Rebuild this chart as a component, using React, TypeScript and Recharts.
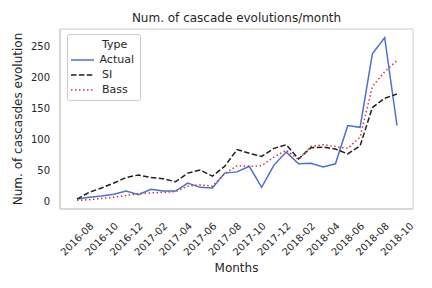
import React from 'react';
import { LineChart, Line, XAxis, YAxis, Legend, CartesianGrid } from 'recharts';

const months = [
  '2016-08', '2016-09', '2016-10', '2016-11', '2016-12', '2017-01', '2017-02', '2017-03', '2017-04',
  '2017-05', '2017-06', '2017-07', '2017-08', '2017-09', '2017-10', '2017-11', '2017-12', '2018-01',
  '2018-02', '2018-03', '2018-04', '2018-05', '2018-06', '2018-07', '2018-08', '2018-09', '2018-10',
];
const actual = [3, 6, 8, 11, 16, 10, 19, 16, 16, 29, 22, 21, 45, 47, 56, 22, 58, 79, 60, 61, 55, 60, 122, 119, 238, 264, 122];
const si = [3, 14, 21, 29, 38, 42, 38, 36, 31, 45, 50, 40, 56, 83, 77, 72, 85, 91, 68, 86, 87, 84, 76, 89, 151, 166, 173];
const bass = [1, 2, 4, 6, 9, 12, 13, 14, 15, 24, 26, 24, 44, 57, 56, 57, 71, 82, 67, 88, 91, 88, 85, 103, 185, 209, 227];
const yTicks = [0, 50, 100, 150, 200, 250];

const FONT = '"DejaVu Sans", sans-serif';
const INK = '#262626';
const SPINE = '#cccccc';

const SERIES = [
  { key: 'Actual', color: '#4a70d0', dash: undefined as string | undefined },
  { key: 'SI', color: '#1f1f1f', dash: '5.5 2.4' },
  { key: 'Bass', color: '#d0363f', dash: '1.5 2.5' },
];

const data = months.map((m, i) => ({ month: m, Actual: actual[i], SI: si[i], Bass: bass[i] }));

const TiltTick = (props: any) => {
  const { x, y, payload } = props;
  const cy = y + 30;
  return (
    <text x={x} y={cy} textAnchor="middle" dominantBaseline="central" fontSize={10} fill={INK}
      fontFamily={FONT} transform={`rotate(-45, ${x}, ${cy})`}>
      {payload.value}
    </text>
  );
};

const LegendBox = () => (
  <div style={{
    border: `1px solid ${SPINE}`, borderRadius: 3, background: 'rgba(255,255,255,0.8)',
    padding: '2px 6px 3px 2px', fontFamily: FONT, fontSize: 11, color: INK,
  }}>
    <div style={{ display: 'flex', alignItems: 'center', height: 15 }}>
      <span style={{ width: 32 }} />
      <span>Type</span>
    </div>
    {SERIES.map(s => (
      <div key={s.key} style={{ display: 'flex', alignItems: 'center', height: 15 }}>
        <svg width={32} height={10}>
          <line x1={1} y1={5} x2={24} y2={5} stroke={s.color} strokeWidth={1.5} strokeDasharray={s.dash} />
        </svg>
        <span>{s.key}</span>
      </div>
    ))}
  </div>
);

// plot frame: lines at the edges of the plotting area
const frameH = (p: any) => [p.offset.top, p.offset.top + p.offset.height];
const frameV = (p: any) => [p.offset.left, p.offset.left + p.offset.width];

export default function App() {
  return (
    <div style={{ position: 'absolute', left: 0, top: 0, width: 432, height: 288, background: '#fff' }}>
      <LineChart width={432} height={288} data={data} margin={{ top: 29, right: 19, bottom: 0, left: 0 }}>
        <CartesianGrid stroke={SPINE} strokeWidth={1} xAxisId="main" yAxisId="main"
          horizontalCoordinatesGenerator={frameH} verticalCoordinatesGenerator={frameV} />
        <XAxis dataKey="month" xAxisId="main" interval={1} padding={{ left: 17, right: 16 }} height={79}
          tick={<TiltTick />} tickLine={false} tickSize={0} tickMargin={0}
          axisLine={{ stroke: SPINE, strokeWidth: 1 }}
          label={(p: any) => {
            const vb = p.viewBox;
            return (
              <text x={vb.x + vb.width / 2} y={268} textAnchor="middle" dominantBaseline="central"
                fontSize={12} fill={INK} fontFamily={FONT}>Months</text>
            );
          }} />
        <YAxis yAxisId="main" width={60} domain={[-13, 278]} ticks={yTicks} allowDataOverflow
          tick={{ fontSize: 10, fill: INK, fontFamily: FONT }} tickLine={false} tickSize={0} tickMargin={10}
          axisLine={{ stroke: SPINE, strokeWidth: 1 }}
          label={(p: any) => {
            const vb = p.viewBox;
            const cx = 18;
            const cy = vb.y + vb.height / 2;
            return (
              <g>
                <text x={cx} y={cy} textAnchor="middle" dominantBaseline="central" fontSize={12} fill={INK}
                  fontFamily={FONT} transform={`rotate(-90, ${cx}, ${cy})`}>Num. of cascasdes evolution</text>
                <text x={vb.x + vb.width + 353 / 2} y={18} textAnchor="middle" dominantBaseline="central"
                  fontSize={12} fill={INK} fontFamily={FONT}>Num. of cascade evolutions/month</text>
              </g>
            );
          }} />
        <Legend layout="vertical" align="center" verticalAlign="middle" content={<LegendBox />}
          wrapperStyle={{ left: 67, top: 34, width: 74 }} />
        {SERIES.map(s => (
          <Line key={s.key} xAxisId="main" yAxisId="main" type="linear" dataKey={s.key} stroke={s.color}
            strokeWidth={1.5} strokeDasharray={s.dash} dot={false} activeDot={false} isAnimationActive={false} />
        ))}
      </LineChart>
    </div>
  );
}
